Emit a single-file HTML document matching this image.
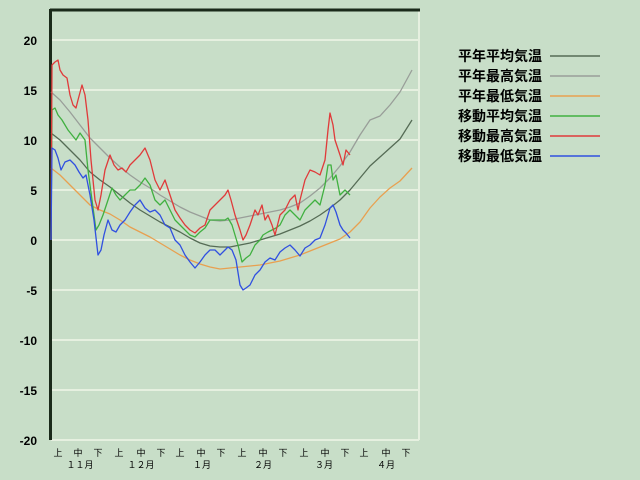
<!DOCTYPE html>
<html><head><meta charset="utf-8"><style>
body{margin:0;background:#c8dec8;}
svg{display:block;font-family:"Liberation Sans","Noto Sans CJK JP",sans-serif;}
</style></head><body>
<svg width="640" height="480" xmlns="http://www.w3.org/2000/svg">
<rect width="640" height="480" fill="#c8dec8"/>
<g stroke="#e6f0e0" stroke-width="2">
<line x1="51" y1="40" x2="419" y2="40"/><line x1="51" y1="90" x2="419" y2="90"/>
<line x1="51" y1="140" x2="419" y2="140"/><line x1="51" y1="190" x2="419" y2="190"/>
<line x1="51" y1="240" x2="419" y2="240"/><line x1="51" y1="290" x2="419" y2="290"/>
<line x1="51" y1="340" x2="419" y2="340"/><line x1="51" y1="390" x2="419" y2="390"/>
<line x1="51" y1="440" x2="419" y2="440"/><line x1="419" y1="11" x2="419" y2="440"/>
</g>
<line x1="50" y1="10" x2="420" y2="10" stroke="#1a2a1a" stroke-width="3"/>
<line x1="50.5" y1="9" x2="50.5" y2="440" stroke="#1a2a1a" stroke-width="3"/>
<g font-size="12" font-weight="bold" text-anchor="end" fill="#000">
<text x="37" y="45">20</text><text x="37" y="95">15</text><text x="37" y="145">10</text>
<text x="37" y="195">5</text><text x="37" y="245">0</text><text x="37" y="295">-5</text>
<text x="37" y="345">-10</text><text x="37" y="395">-15</text><text x="37" y="445">-20</text>
</g>
<g font-size="9" fill="#000" text-anchor="middle">
<text x="58" y="456">上</text><text x="78" y="456">中</text><text x="98" y="456">下</text>
<text x="119" y="456">上</text><text x="141" y="456">中</text><text x="161" y="456">下</text>
<text x="180" y="456">上</text><text x="201" y="456">中</text><text x="221" y="456">下</text>
<text x="242" y="456">上</text><text x="263" y="456">中</text><text x="283" y="456">下</text>
<text x="304" y="456">上</text><text x="325" y="456">中</text><text x="345" y="456">下</text>
<text x="364" y="456">上</text><text x="386" y="456">中</text><text x="406" y="456">下</text>
<text x="80" y="468">１１月</text><text x="141" y="468">１２月</text><text x="202" y="468">１月</text>
<text x="263" y="468">２月</text><text x="324" y="468">３月</text><text x="386" y="468">４月</text>
</g>
<g fill="none" stroke-width="1.3" stroke-linejoin="round">
<polyline stroke="#556b55" points="51,133 60,140 70,150 80,160 90,172 100,180 110,187 120,195 130,203 140,210 150,216 160,222 170,227 180,232 190,238 200,243 210,246 220,247 230,247 240,245 250,243 260,240 270,237 280,234 290,230 300,226 310,221 320,215 330,208 340,200 350,190 360,178 370,166 380,157 390,148 400,139 412,120"/>
<polyline stroke="#999e99" points="51,92 60,100 70,112 80,125 90,138 100,148 110,158 120,167 130,175 140,182 150,188 160,195 170,201 180,207 190,212 200,216 210,220 220,221 230,220 240,218 250,216 260,214 270,212 280,210 290,207 300,203 310,196 320,188 330,178 340,166 350,152 360,135 370,120 380,116 390,105 400,92 412,70"/>
<polyline stroke="#e8a050" points="51,168 60,175 70,185 80,195 90,205 100,210 110,214 120,220 130,227 140,232 150,237 160,243 170,249 180,255 190,260 200,264 210,267 220,269 230,268 240,267 250,266 260,265 270,263 280,261 290,258 300,255 310,251 320,247 330,243 340,239 350,232 360,222 370,208 380,197 390,188 400,181 412,168"/>
<polyline stroke="#40b040" points="51,240 52,110 55,108 58,115 62,120 65,125 68,130 72,135 76,140 80,133 85,140 88,170 92,200 96,230 99,225 103,215 108,200 112,188 116,195 120,200 125,195 130,190 135,190 140,185 145,178 150,185 155,200 160,205 165,200 170,210 175,220 180,225 185,230 190,235 195,237 200,232 205,228 210,220 215,220 220,220 225,220 228,218 232,225 238,245 242,262 246,258 250,255 255,245 260,240 263,235 268,232 272,230 276,228 280,225 285,215 290,210 295,215 300,220 305,210 310,205 315,200 320,205 325,185 328,165 331,165 333,180 336,175 340,195 345,190 350,195"/>
<polyline stroke="#e03a3a" points="51,240 52,65 55,62 58,60 60,70 63,75 67,78 70,95 73,105 76,108 78,100 82,85 85,95 88,120 91,160 95,200 98,210 101,195 105,170 110,155 114,165 118,170 122,168 126,172 130,165 135,160 140,155 145,148 150,160 155,180 160,190 165,180 170,195 175,210 180,218 185,225 190,230 195,233 200,228 205,225 210,210 215,205 220,200 225,195 228,190 231,200 235,215 240,230 243,240 246,235 250,225 255,210 258,215 262,205 265,220 268,215 272,225 275,235 280,215 285,210 290,200 295,195 298,210 300,200 305,180 310,170 315,172 320,175 325,160 328,130 330,113 333,125 335,140 340,155 343,165 346,150 350,155"/>
<polyline stroke="#3050e0" points="51,240 52,148 55,150 58,158 61,170 65,162 70,160 75,165 79,172 83,178 86,175 90,195 94,220 98,255 101,250 104,235 108,220 112,230 116,232 120,225 125,220 130,212 135,205 140,200 145,208 150,212 155,210 160,215 165,225 170,228 175,240 180,245 185,255 190,262 195,268 200,262 205,255 210,250 215,250 220,255 225,250 228,247 232,250 236,260 240,285 243,290 246,288 250,285 255,275 260,270 265,262 270,258 275,260 280,252 285,248 290,245 295,250 300,256 305,248 310,245 315,240 320,238 325,225 330,208 333,205 336,212 340,225 343,230 346,233 350,238"/>
</g>
<g font-size="14" font-weight="bold" fill="#000">
<text x="458" y="61">平年平均気温</text><text x="458" y="81">平年最高気温</text>
<text x="458" y="101">平年最低気温</text><text x="458" y="121">移動平均気温</text>
<text x="458" y="141">移動最高気温</text><text x="458" y="161">移動最低気温</text>
</g>
<g stroke-width="1.5">
<line x1="550" y1="56" x2="600" y2="56" stroke="#556b55"/>
<line x1="550" y1="76" x2="600" y2="76" stroke="#999e99"/>
<line x1="550" y1="96" x2="600" y2="96" stroke="#e8a050"/>
<line x1="550" y1="116" x2="600" y2="116" stroke="#40b040"/>
<line x1="550" y1="136" x2="600" y2="136" stroke="#e03a3a"/>
<line x1="550" y1="156" x2="600" y2="156" stroke="#3050e0"/>
</g>
</svg>
</body></html>
